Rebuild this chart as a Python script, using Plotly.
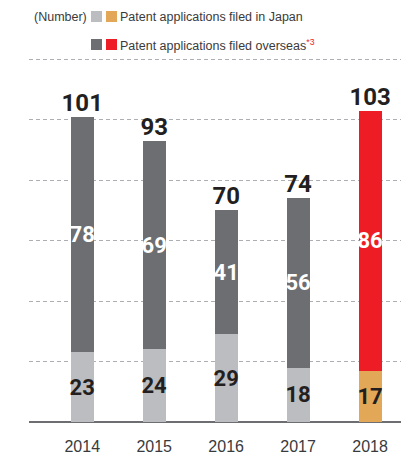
import plotly.graph_objects as go

years = ["2014", "2015", "2016", "2017", "2018"]
japan = [23, 24, 29, 18, 17]
overseas = [78, 69, 41, 56, 86]
totals = [101, 93, 70, 74, 103]

japan_colors = ["#BCBDC0", "#BCBDC0", "#BCBDC0", "#BCBDC0", "#E3A857"]
overseas_colors = ["#6D6E72", "#6D6E72", "#6D6E72", "#6D6E72", "#EE1C25"]

NUM_FONT = "Roboto, DejaVu Sans Condensed, sans-serif"
TXT = "#231F20"

W, H = 401, 459
L, R, T, B = 29, 0, 58, 37
pw, ph = W - L - R, H - T - B


def px_x(x):
    return (x - L) / pw


def px_y(y):
    return (H - B - y) / ph


fig = go.Figure()
fig.add_trace(go.Bar(
    x=years, y=japan, marker=dict(color=japan_colors, line=dict(width=0)),
    text=japan, textposition="inside", insidetextanchor="middle",
    constraintext="none", textangle=0, width=0.32,
    textfont=dict(family=NUM_FONT, size=22, color=TXT, weight="bold"),
))
fig.add_trace(go.Bar(
    x=years, y=overseas, marker=dict(color=overseas_colors, line=dict(width=0)),
    text=overseas, textposition="inside", insidetextanchor="middle",
    constraintext="none", textangle=0, width=0.32,
    textfont=dict(family=NUM_FONT, size=22, color="white", weight="bold"),
))
fig.add_trace(go.Scatter(
    x=years, y=totals, mode="text", text=totals, textposition="top center",
    textfont=dict(family=NUM_FONT, size=24, color=TXT, weight="bold"),
    cliponaxis=False,
))

# legend drawn by hand: two swatches per series
shapes = []
for (x0, y0, c) in [(91, 11, "#BCBDC0"), (106, 11, "#E3A857"),
                    (91, 39, "#6D6E72"), (106, 39, "#EE1C25")]:
    shapes.append(dict(type="rect", xref="paper", yref="paper",
                       x0=px_x(x0), x1=px_x(x0 + 11), y0=px_y(y0 + 11), y1=px_y(y0),
                       fillcolor=c, line=dict(width=0)))

LEG_FONT = dict(family="Liberation Sans, Arial, sans-serif", size=12.5, color="#3A3A3C")
annotations = [
    dict(text="(Number)", x=px_x(32), y=px_y(17), xref="paper", yref="paper",
         xanchor="left", yanchor="middle", showarrow=False, font=LEG_FONT),
    dict(text="Patent applications filed in Japan", x=px_x(118), y=px_y(17),
         xref="paper", yref="paper", xanchor="left", yanchor="middle",
         showarrow=False, font=LEG_FONT),
    dict(text="Patent applications filed overseas<sup><span style='color:#EE1C25'>*3</span></sup>",
         x=px_x(118), y=px_y(45), xref="paper", yref="paper", xanchor="left",
         yanchor="middle", showarrow=False, font=LEG_FONT),
]

fig.update_layout(
    width=W, height=H, autosize=False,
    barmode="stack", showlegend=False,
    margin=dict(l=L, r=R, t=T, b=B),
    paper_bgcolor="white", plot_bgcolor="white",
    shapes=shapes, annotations=annotations,
    xaxis=dict(type="category", range=[-0.74, 4.43], showgrid=False, ticks="",
               tickfont=dict(family="Liberation Sans, Arial, sans-serif", size=16, color="#3A3A3C"),
               ticklabelstandoff=13, showline=False, zeroline=False),
    yaxis=dict(range=[0, 120.4], tickvals=[20, 40, 60, 80, 100, 120],
               showticklabels=False, showgrid=True,
               gridcolor="#ADAEB1", griddash="4px,3px", gridwidth=1,
               zeroline=True, zerolinecolor="#6D6E72", zerolinewidth=1.5,
               showline=False),
)

# the page body has a default 8px margin; drop it so the figure fills the window
fig.write_html("out.html", config={"responsive": False, "displayModeBar": False},
               post_script="document.body.style.margin='0';document.body.style.overflow='hidden';")
